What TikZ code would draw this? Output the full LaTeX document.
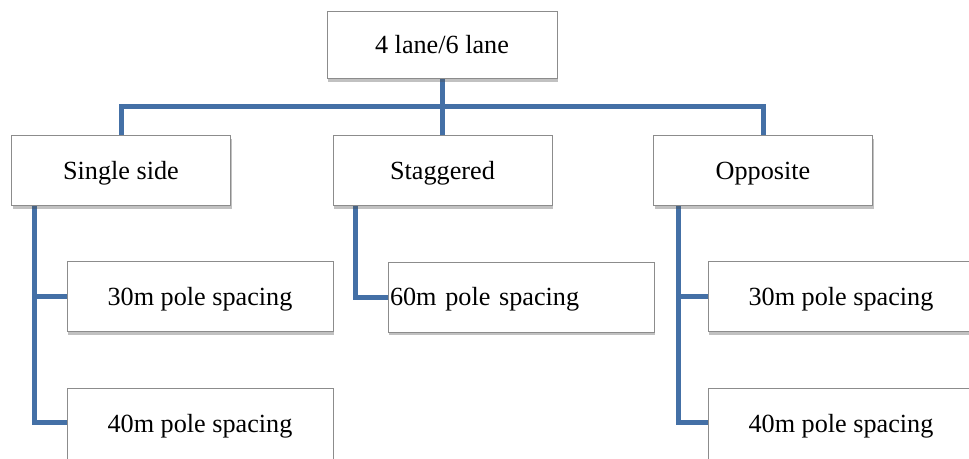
\documentclass[tikz,border=0pt]{standalone}
\usepackage{fontspec}
\setmainfont{Liberation Serif}
\usetikzlibrary{calc, shadows, backgrounds}
\definecolor{linkblue}{RGB}{68, 112, 166}
\definecolor{boxgray}{RGB}{140, 140, 140}

\begin{document}
\begin{tikzpicture}[
        x=0.5pt, y=-0.5pt,
        box/.style={draw=boxgray, line width=0.5pt, fill=white, inner sep=1pt,
            font=\fontsize{13.1}{15}\selectfont, text height=11.5pt, text depth=3pt,
            drop shadow={shadow xshift=0.7pt, shadow yshift=-1.4pt, opacity=0.35, fill=black!70}},
        rootbox/.style={box, minimum width=115pt, minimum height=33.5pt},
        catbox/.style={box, minimum width=109.5pt, minimum height=35pt},
        leafbox/.style={box, minimum width=133pt, minimum height=35pt},
        link/.style={draw=linkblue, line width=2.5pt},
    ]
        \useasboundingbox (0,0) rectangle (969,459);

        % root and the three layouts
        \node[rootbox] (root) at (442,45.5) {4 lane/6 lane};
        \node[catbox] (single) at (121,171) {Single side};
        \node[catbox] (stag) at (442.5,171) {Staggered};
        \node[catbox] (opp) at (763,171) {Opposite};

        % pole spacings
        \node[leafbox] (s30) at (200,297) {30m pole spacing};
        \node[leafbox, minimum height=36pt] (s40) at (200,424.5) {40m pole spacing};
        \node[leafbox, text width=131pt, align=left] (g60) at (521,297.5) {60m pole spacing};
        \node[leafbox] (o30) at (841,297) {30m pole spacing};
        \node[leafbox, minimum height=36pt] (o40) at (841,424.5) {40m pole spacing};

        \begin{scope}[on background layer]
            \coordinate (bus) at (442,107);
            \draw[link] (root.south) -- (bus);
            \draw[link] (single.north) |- (bus) -| (opp.north);
            \draw[link] (stag.north) -- (stag.north |- bus);

            % trunks down the left of each layout box
            \coordinate (strunk) at ($(single.south west)+(23,0)$);
            \coordinate (gtrunk) at ($(stag.south west)+(23,0)$);
            \coordinate (otrunk) at ($(opp.south west)+(25,0)$);
            \draw[link] (strunk) |- ($(s40.west)+(0,-1.5)$);
            \draw[link] (strunk |- s30.west) -- (s30.west);
            \draw[link] (gtrunk) |- (g60.west);
            \draw[link] (otrunk) |- ($(o40.west)+(0,-1.5)$);
            \draw[link] (otrunk |- o30.west) -- (o30.west);
        \end{scope}
\end{tikzpicture}
\end{document}
